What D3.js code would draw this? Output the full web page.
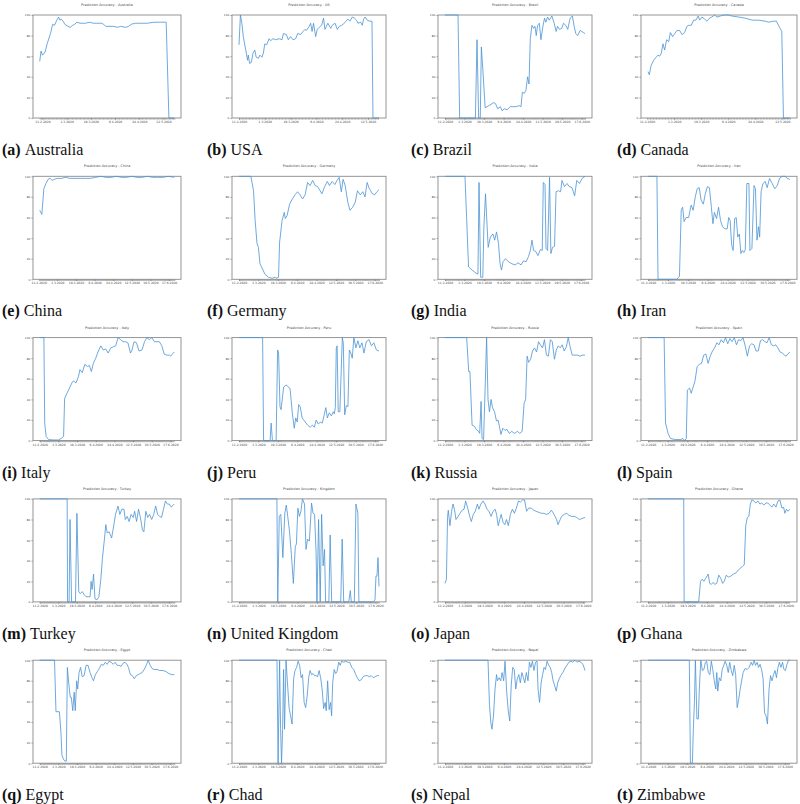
<!DOCTYPE html>
<html><head><meta charset="utf-8">
<script src="https://cdn.jsdelivr.net/npm/d3@7"></script>
<style>body{margin:0;background:#fff} text{-webkit-font-smoothing:antialiased}</style></head>
<body><svg id="chart" width="800" height="804"></svg>
<script>
// ---------- categories ----------
const captionNames = ["Australia","USA","Brazil","Canada","China","Germany","India","Iran","Italy","Peru","Russia","Spain","Turkey","United Kingdom","Japan","Ghana","Egypt","Chad","Nepal","Zimbabwe"];
const titleNames = ["Australia","US","Brazil","Canada","China","Germany","India","Iran","Italy","Peru","Russia","Spain","Turkey","Kingdom","Japan","Ghana","Egypt","Chad","Nepal","Zimbabwe"];
const letters = ["a","b","c","d","e","f","g","h","i","j","k","l","m","n","o","p","q","r","s","t"];

// ---------- tick labels (every 18th day) ----------
const ticksShort = ["11.2.2020","1.3.2020","19.3.2020","6.4.2020","24.4.2020","12.5.2020"];
const ticksLong = ["11.2.2020","1.3.2020","19.3.2020","6.4.2020","24.4.2020","12.5.2020","30.5.2020","17.6.2020"];
const ticksLongB = ["11.2.2020","1.3.2020","19.3.2020","6.4.2020","24.4.2020","11.5.2020","29.5.2020","17.6.2020"];
const yTicks = [0,20,40,60,80,100];

// ---------- series: [day, accuracy %] ----------
const australia = [[-2,55],[-1,65],[0,61],[2,64],[3.5,72],[6,82],[7.6,91],[9,90],[10.7,95],[12,98],[13,95],[14,96],[15.4,94],[16.6,91],[19,89],[20.6,88],[22.5,90],[24,91],[25.6,93],[28,92],[32,92],[35,93],[38,92],[40,92],[44,92],[45.5,91],[47,89],[51,89],[53,89],[56,88],[58,89],[62,88],[64,89],[66,91],[69,92],[73.5,92],[78,92],[83,93],[88,93],[92,93],[94,0],[98,0]];
const us = [[0,71],[1,100],[2,92],[3,79],[4.7,66],[6,56],[6.5,61],[7.4,53],[8.6,54],[9.8,63],[11,66],[12,59],[13.5,58],[14.6,61],[16,59],[17,63],[18,72],[19.3,71],[21,77],[22,75],[23.7,77],[25.6,76],[28,77],[30,76],[31,82],[33,81],[34.4,76],[36,79],[37.7,76],[39.5,77],[41,82],[43,81],[44.7,84],[46,86],[47,85],[49,89],[50,92],[51,84],[52,92],[53.5,79],[54.6,86],[56,88],[57.7,90],[59,97],[60,86],[61,89],[62,92],[64,87],[65,90],[67,92],[68.6,86],[70,89],[71.6,90],[72.8,91],[74,93],[76,96],[77.4,94],[79,98],[80.5,97],[82,95],[83,92],[85,93],[86,90],[87,96],[88,98],[89.5,95],[91,94],[92.8,94],[93.5,0],[97.7,0]];
const brazil = [[0,100],[12,100],[13.5,0],[28,0],[29.5,76],[31,0],[32.5,0],[33.5,69],[35,45],[37,10],[40.4,12],[45,15],[46.5,14],[48.6,9],[51,11],[52.6,7],[54.7,9],[57.2,8],[60.2,11],[63.3,11],[65.7,11],[68.2,12],[70,11],[71.3,25],[73,24],[74.6,27],[76.1,40],[77.4,33],[78.6,77],[80.1,90],[81.7,87],[82.9,89],[84.1,80],[85.3,90],[86.9,92],[88.4,76],[90.2,89],[91.7,97],[92.9,93],[94.5,98],[96,95],[98.5,99],[100.6,92],[102.4,84],[103.7,89],[105.5,86],[107.6,87],[109.2,92],[111.3,90],[113.1,86],[115.3,97],[117.4,99],[119,89],[120.5,82],[122.3,80],[124.5,85],[126,84],[127.5,83],[129,82]];
const canada = [[0.7,45],[1.5,42],[2.7,51],[4.4,56],[6,59],[7.3,61],[8.4,60],[9.5,63],[10.6,72],[11.7,66],[13,76],[14.4,74],[15.5,83],[17,79],[18.4,82],[19.9,85],[21.7,85],[23.2,81],[25,83],[26.5,89],[27.7,90],[29.4,90],[31,95],[32.5,95],[34,99],[35,95],[36.5,98],[38.3,96],[39.8,94],[41.6,97],[43,98],[45,100],[46.5,98],[48.7,99],[51,100],[54,100],[56.4,99],[61,98],[65,97],[70,95],[74,95],[78.5,94],[81,93],[84,94],[86,94],[88.5,87],[89.6,84],[90.7,0],[95,0]];
const china = [[1,67],[2,65],[3,63],[5,88],[7,93],[9,97],[11,98],[13,96],[15,97],[18,98],[22,98],[26,99],[30,98],[35,98],[40,98],[45,98],[50,98],[55,99],[60,100],[65,99],[70,99],[75,100],[80,99],[85,99],[90,100],[95,99],[100,99],[105,100],[110,99],[115,99],[120,99],[125,100],[131,99]];
const germany = [[0,100],[11,100],[13.5,86],[15,57],[16.7,35],[18,31],[19.5,15],[21,12],[24,5],[27.4,2],[30.7,1],[33.5,2],[34.4,1],[36.7,2],[37.7,36],[40,57],[42,65],[43,59],[44.7,62],[47,73],[49,77],[52,82],[54.4,85],[56.7,82],[59,78],[61.4,82],[63.7,94],[66,91],[68.4,96],[70.7,91],[73,90],[75.3,86],[77,83],[79.5,90],[82,95],[84,91],[86.5,95],[89,92],[91,96],[93,99],[95,85],[96.7,97],[98.6,91],[101,75],[103,67],[105.6,70],[108,75],[110,86],[112.6,82],[115,85],[117,80],[119,94],[121,88],[124,83],[126,82],[128,85],[130,87]];
const india = [[0,100],[18.5,100],[20,60],[21.8,12],[25,9],[28.7,6],[30.5,5],[31.5,94],[33,2],[35,2],[36,51],[37.5,83],[39,51],[40,31],[42,41],[44.4,44],[46,38],[47.7,46],[49.5,35],[51,15],[52.3,9],[53.7,17],[56,20],[58.8,17],[62,15],[65,14],[67.6,16],[70.4,14],[72.7,18],[75,17],[77.3,22],[79,28],[80.5,38],[82,28],[84,27],[86,23],[88.4,29],[90,28],[91,94],[92.6,92],[93.5,30],[95,28],[96.8,99],[98,25],[99.5,31],[101.4,32],[102.8,85],[105,86],[107,85],[108.3,96],[110.6,90],[113,93],[115,90],[117.6,89],[120,81],[122,96],[124.5,93],[127,98],[129.6,100]];
const iran = [[0,100],[8,100],[9,0],[26,0],[28.4,3],[30,67],[31.3,70],[32.6,56],[34.4,60],[36.7,60],[39,72],[40.8,67],[42.7,80],[44.5,88],[46.3,89],[48,77],[50,73],[51.8,83],[53.7,90],[55.5,89],[57.3,70],[58.7,54],[60,65],[62,59],[63.8,70],[65.6,57],[67.4,51],[69.7,49],[71.6,49],[73,60],[74.3,57],[75.7,33],[77,28],[78.4,59],[79.8,60],[81.2,41],[82.6,44],[84,25],[85.3,28],[86.7,26],[88,29],[89.4,93],[91.3,93],[92.2,28],[94,30],[95.9,91],[97.2,88],[98.6,38],[100,51],[101,41],[102.3,85],[104,93],[106,95],[107.8,89],[110,98],[112.4,93],[114.7,88],[117,91],[119,98],[121.6,100],[124,100],[126,98],[128.4,97]];
const italy = [[0,100],[4,100],[4.8,17],[6.2,4],[8.6,1],[13.4,0.6],[18,0.6],[20.6,2],[23,4],[24,41],[26.3,46],[28.7,51],[31,56],[32.5,58],[35,56],[37.3,62],[38.8,69],[41,66],[43.5,74],[46,72],[47.8,73],[49.8,67],[51.7,75],[54,80],[56.5,87],[58.9,92],[61.2,88],[63.6,89],[66,85],[68.4,90],[70.8,91],[73.2,92],[75.6,100],[78,98],[80.4,96],[82.8,96],[85,95],[87.5,85],[89,88],[90.9,96],[93.3,95],[95.7,87],[98.6,88],[101,96],[103.3,100],[105.7,98],[108,100],[110.5,96],[113,96],[115.3,96],[117.7,92],[120,84],[122.5,83],[125,83],[126.3,82],[127.8,84],[129.7,86]];
const peru = [[0,100],[21.9,100],[22.8,0],[28.8,0],[29.8,17],[31,0],[34.4,0],[35.8,88],[36.7,85],[38,33],[39,30],[41.4,52],[43.7,54],[46,52],[47.4,50],[49.3,28],[51.2,12],[52.6,22],[54,18],[55.3,35],[56.7,33],[58.6,22],[61.4,18],[63.7,15],[66,13],[68,15],[69.8,13],[71.6,20],[73.5,16],[75.3,18],[77.2,17],[79,25],[80.5,32],[81.9,22],[83.7,27],[85.6,24],[87.4,28],[88.4,26],[89.3,32],[90.2,90],[91,92],[92,28],[93.5,28],[95.8,100],[96.7,95],[98,25],[99.5,34],[101,33],[102.3,88],[103.7,85],[105,80],[106.5,100],[108.4,90],[110.2,97],[112,90],[114,95],[115.8,85],[118,96],[120.5,98],[122.8,92],[125,95],[127.4,88],[129.8,87]];
const russia = [[0,100],[20,100],[21.9,67],[23,67],[25,15],[27,14],[28.8,11],[31,9],[32,7],[33.3,38],[34.2,2],[35.6,1],[37,49],[38.4,100],[39.7,40],[41,28],[42.5,40],[43.8,32],[45.7,28],[47.5,19],[48.9,20],[50.2,14],[51.6,6],[53.4,12],[55.3,10],[57,11],[59.4,7],[61.6,9],[64,7],[66.7,9],[69,7],[71.2,9],[73,36],[74.4,40],[75.8,82],[77.2,76],[79,79],[80.8,87],[82.6,90],[84.5,86],[86.3,96],[88,93],[90,90],[91.8,98],[93.6,83],[95.4,82],[97.3,98],[99,96],[101,79],[102.7,88],[104.6,92],[106.4,90],[108.2,93],[110,87],[112,91],[113.7,100],[115.5,91],[117.4,83],[120,83],[122.4,83],[124.7,82],[127,83],[129.2,83]];
const spain = [[0,100],[14.7,100],[16,17],[18.3,7],[20.6,2],[25,1],[30,1],[32,2],[33.5,0],[35,2],[36,49],[38,51],[39.5,46],[41,51],[43,58],[45,72],[47,74],[49,75],[51,83],[53,84],[55,75],[57,82],[59,87],[61,90],[63,95],[65,93],[67,98],[69,95],[71,100],[73,94],[75,99],[77,96],[79,100],[81,93],[83,98],[85,97],[87,100],[89,92],[91,82],[93,92],[95,94],[97,93],[99,87],[101,87],[103,97],[105,98],[107,96],[109,95],[111,100],[113,93],[115,92],[117,93],[119,90],[121,86],[123,85],[125,83],[126.5,82],[128,84],[130,86]];
const turkey = [[0,100],[26.7,100],[27.1,0],[28.6,0],[29.5,80],[31,0],[34.8,0],[36.2,86],[38,10],[39.5,8],[41.4,10],[43.3,7],[45.2,5],[47.6,5],[49,5],[50,20],[51,12],[52.4,27],[53.8,3],[55.7,2],[57.6,5],[59.5,22],[61,42],[62.9,60],[64.3,75],[65.7,67],[67.6,68],[70,62],[71.4,70],[73.8,85],[76.2,93],[78,85],[80,90],[82,90],[83.3,80],[85.2,83],[87,78],[89,85],[91,82],[92.4,88],[94.3,78],[96.2,90],[98,82],[100,70],[101.4,68],[103.3,88],[105.2,82],[107,85],[109,80],[111,85],[112.9,93],[114.8,85],[116.7,83],[118.6,82],[120.5,90],[122.4,98],[124.3,95],[126.2,95],[128,92],[131,95]];
const kingdom = [[0,100],[35,100],[35.8,0],[37.2,83],[38.6,85],[40.5,43],[42.3,86],[43.7,94],[45,83],[46.5,70],[48.4,46],[50.2,18],[52,54],[53,56],[54.4,91],[55.8,83],[57.2,88],[58.6,100],[60.5,95],[61.9,51],[63.3,61],[65,59],[67,96],[68.4,86],[69.8,85],[71.2,48],[72,0],[73.5,80],[75,0],[76.3,85],[77.7,35],[79,51],[80,0],[83,0],[84.2,65],[85.6,0],[94,0],[95.3,61],[96.7,0],[101.4,0],[102.8,11],[103.7,0],[106.5,0],[108,95],[109.8,86],[110.7,0],[124,0],[125.6,2],[126.5,25],[127.4,25],[128.4,43],[129.3,15]];
const japan = [[0,18],[1.3,22],[2.3,82],[3,89],[4.5,74],[6,88],[7.3,95],[8.6,90],[10,80],[12,83],[13.7,86],[15.6,89],[17.4,90],[18.8,98],[20.7,91],[22.5,83],[24,78],[25.8,85],[27.6,88],[29.5,95],[30.9,90],[32.7,95],[34.6,98],[36.4,95],[38.3,90],[40,88],[42,83],[43.8,88],[45.7,90],[47,85],[48.5,74],[49.9,80],[51.2,85],[53,77],[54.5,75],[56,80],[57.7,74],[59.6,85],[61.4,90],[63.3,86],[65,91],[67,98],[68.8,97],[70.7,99],[72.5,99],[74.4,88],[76.2,91],[78.6,91],[80.9,89],[83,88],[85.5,87],[87.8,86],[90,86],[92.4,85],[94.8,86],[97,89],[99.4,85],[101.7,80],[103,75],[105,80],[106.3,83],[108.6,85],[111,86],[113,84],[115.6,83],[118,83],[120,82],[122.5,80],[125,81],[127.6,82]];
const ghana = [[0,100],[32.6,100],[33,0],[46.3,0],[48,20],[49.5,22],[51,20],[52.8,23],[55,27],[56.4,18],[57.8,17],[59.6,19],[61,17],[62.8,18],[64.7,26],[66.5,23],[68.3,18],[69.7,20],[71.6,26],[73.4,24],[75.7,25],[78,27],[80.3,28],[82.6,31],[84.9,33],[86.7,35],[88,36],[89.4,74],[90.8,82],[92.2,83],[93.6,95],[95,99],[96.8,98],[98.6,96],[100.5,98],[102.3,95],[104,96],[106,94],[107.8,96],[109.6,96],[111.5,94],[113.3,92],[115,95],[117,92],[118.8,98],[120.6,99],[122.5,91],[124,92],[125.2,86],[126.6,90],[128,88],[129.8,90]];
const egypt = [[0,100],[14.3,100],[15.7,50],[19,50],[20.5,30],[21.4,8],[22.9,4],[24.3,2],[25.7,2],[26.7,93],[28,78],[29.5,64],[30.5,64],[31.9,51],[33.3,69],[34.3,51],[35.7,80],[36.7,72],[38,88],[39.5,93],[41,84],[42.9,85],[44.8,95],[46.7,95],[48.6,88],[50.5,83],[51.9,80],[53.8,86],[55.7,89],[57.6,92],[59.5,96],[61.4,95],[63.3,98],[65.2,96],[67,99],[69,98],[71,96],[72.9,98],[74.8,95],[76.7,95],[78.6,94],[80.5,97],[82.4,98],[84.3,96],[85.7,93],[87.6,86],[89.5,85],[91.4,82],[93.3,85],[95.2,86],[97,87],[99,88],[101,91],[102.9,95],[104.8,100],[106.7,95],[108.6,92],[110.5,91],[113.3,91],[116,90],[119,90],[122,89],[124.8,87],[127.6,86],[130,86]];
const chad = [[0,100],[35.3,100],[36.3,0],[37.7,100],[38.6,34],[39.5,0],[40.5,33],[41.4,91],[42.3,33],[43.7,100],[45,78],[46.5,54],[47.9,46],[49.3,38],[50.7,82],[52,90],[53.5,93],[54.9,99],[56.3,95],[57.7,83],[59,86],[60.5,59],[61.9,54],[63.3,65],[64.7,83],[66,90],[67.4,86],[68.8,87],[70.2,85],[71.6,85],[73,84],[74.4,90],[75.8,83],[77.2,72],[78.6,53],[80,59],[81,51],[82.3,80],[83.7,52],[85,59],[86,46],[87,78],[88.4,91],[89.8,87],[91,89],[92.6,98],[94,95],[95.3,99],[97.2,98],[99,99],[101,98],[102.8,98],[104.7,93],[106.5,91],[108.4,86],[109.8,83],[111.6,80],[113.5,81],[115.3,84],[117.2,85],[119,85],[121,84],[122.8,85],[124.7,83],[126.5,84],[128.4,85],[130,85]];
const nepal = [[0,100],[39.4,100],[40.7,57],[42,39],[43,33],[44.4,46],[45.8,72],[47.2,86],[48,80],[49.5,83],[51,80],[52.3,88],[53.7,80],[55,99],[56.5,69],[57.9,51],[59.3,41],[60.6,75],[62,93],[63.4,91],[64.8,72],[66.2,82],[67.6,86],[69,78],[70.4,88],[71.8,83],[73.1,78],[74.5,88],[76,80],[77.3,98],[78.7,93],[80,99],[81.5,90],[82.9,98],[84.3,99],[85.2,72],[86.6,59],[88,78],[89.4,86],[90.7,93],[92,91],[93.5,99],[95,95],[96.3,93],[97.7,88],[99,80],[100.5,75],[101.9,70],[103.2,78],[104.6,82],[106,85],[107.9,88],[109.7,92],[111.6,95],[113.4,98],[115.3,99],[117,98],[119,100],[120.8,98],[122.7,99],[124.5,98],[126.4,96],[128.2,90]];
const zimbabwe = [[0,100],[38,100],[39,0],[40.8,0],[41.7,33],[42.7,59],[43.6,100],[45,43],[46.3,43],[47.2,72],[48.6,100],[50,90],[51.4,91],[52.8,98],[54,99],[55.5,88],[56.9,86],[58.3,99],[59.6,91],[61,80],[62.4,72],[63.3,88],[64.2,70],[65.6,83],[67,80],[68.3,91],[69.7,95],[71,99],[72.5,95],[73.9,88],[75.2,98],[76.6,90],[78,85],[79.4,95],[80.7,86],[82.1,54],[83.5,62],[84.9,72],[86.2,80],[87.6,88],[89.4,92],[91.3,91],[93.1,93],[95,98],[96.3,95],[97.7,100],[99,95],[100.5,98],[101.8,93],[103.2,96],[104.6,91],[106,82],[107.3,49],[108.7,46],[110,38],[111.5,72],[112.8,85],[114.2,80],[115.6,86],[117,90],[118.3,83],[119.7,93],[121,98],[122.5,93],[123.9,98],[125.2,91],[126.6,90],[128,96],[129.4,100],[130.7,100]];

const seriesList = [australia,us,brazil,canada,china,germany,india,iran,italy,peru,russia,spain,turkey,kingdom,japan,ghana,egypt,chad,nepal,zimbabwe];
const tickSets = [ticksShort,ticksShort,ticksLongB,ticksShort,ticksLong,ticksLong,ticksLongB,ticksLong,ticksLong,ticksLong,ticksLong,ticksLong,ticksLong,ticksLong,ticksLong,ticksLong,ticksLong,ticksLong,ticksLong,ticksLong];
const tickStep = 18;

// ---------- layout ----------
const colL = [33, 232, 438, 641];
const colR = [181, 386, 592, 797];
const capX = [2, 207, 411, 617];
const rowPitch = 161.3;
const plotTop = 15, plotBottom = 118, capBase = 155;

const svg = d3.select("#chart");
const lineColor = "#4a93d3";
const spineColor = "#8a8a8a";

seriesList.forEach((data, k) => {
  const r = Math.floor(k / 4), c = k % 4;
  const y0 = r * rowPitch;
  const L = colL[c], R = colR[c], T = y0 + plotTop, B = y0 + plotBottom;
  const ext = d3.extent(data, d => d[0]);
  const pad = 0.05 * (ext[1] - ext[0]);
  const x = d3.scaleLinear().domain([ext[0] - pad, ext[1] + pad]).range([L, R]);
  const y = d3.scaleLinear().domain([0, 100]).range([B, T]);
  const g = svg.append("g");

  // title
  g.append("text").attr("x", (L + R) / 2).attr("y", T - 9)
    .attr("text-anchor", "middle").attr("font-family", "DejaVu Sans")
    .attr("font-size", 3.4).attr("fill", "#444")
    .text("Prediction Accuracy - " + titleNames[k]);

  // minor day ticks along bottom
  const days = d3.range(Math.ceil(ext[0]), Math.floor(ext[1]) + 1);
  g.append("g").attr("transform", `translate(0,${B})`)
    .call(d3.axisBottom(x).tickValues(days).tickSize(1.6).tickFormat(""))
    .call(a => a.select(".domain").remove())
    .call(a => a.selectAll("line").attr("stroke", "#555").attr("stroke-width", 0.5));

  // labelled x ticks
  const labels = tickSets[k];
  const tv = labels.map((_, i) => i * tickStep);
  g.append("g").attr("transform", `translate(0,${B})`)
    .call(d3.axisBottom(x).tickValues(tv).tickSize(1.6).tickPadding(1.2).tickFormat((d, i) => labels[i]))
    .call(a => a.select(".domain").remove())
    .call(a => a.selectAll("line").attr("stroke", "#555").attr("stroke-width", 0.5))
    .call(a => a.selectAll("text").attr("font-size", 3).attr("font-family", "DejaVu Sans").attr("fill", "#444"));

  // y axis
  g.append("g").attr("transform", `translate(${L},0)`)
    .call(d3.axisLeft(y).tickValues(yTicks).tickSize(1.6).tickPadding(1.2))
    .call(a => a.select(".domain").remove())
    .call(a => a.selectAll("line").attr("stroke", "#555").attr("stroke-width", 0.5))
    .call(a => a.selectAll("text").attr("font-size", 2.8).attr("font-family", "DejaVu Sans").attr("fill", "#444"));

  // frame
  g.append("rect").attr("x", L).attr("y", T).attr("width", R - L).attr("height", B - T)
    .attr("fill", "none").attr("stroke", spineColor).attr("stroke-width", 0.9);

  // data line
  g.append("path").datum(data)
    .attr("fill", "none").attr("stroke", lineColor).attr("stroke-width", 0.8)
    .attr("stroke-linejoin", "round")
    .attr("d", d3.line().x(d => x(d[0])).y(d => y(d[1])));

  // caption
  const cap = g.append("text").attr("x", capX[c]).attr("y", y0 + capBase)
    .attr("font-family", "Liberation Serif, DejaVu Serif, serif").attr("font-size", 16).attr("fill", "#111");
  cap.append("tspan").attr("font-weight", "bold").text("(" + letters[k] + ")");
  cap.append("tspan").text("\u00a0" + captionNames[k]);
});
</script>
</body></html>
